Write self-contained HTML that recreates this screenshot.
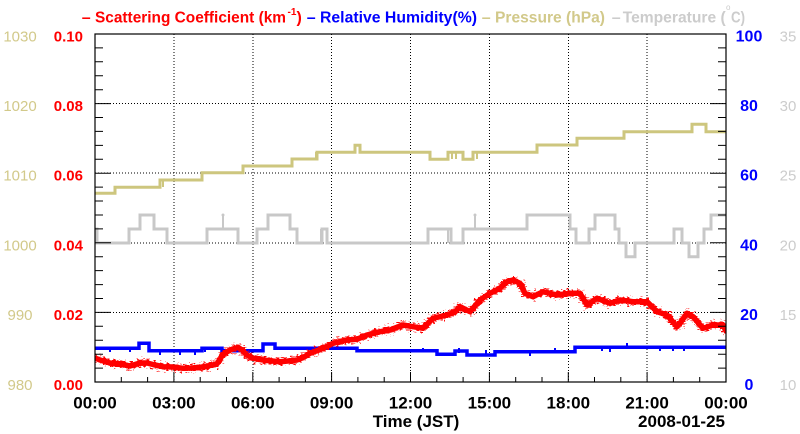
<!DOCTYPE html>
<html><head><meta charset="utf-8"><style>
html,body{margin:0;padding:0;background:#fff;}
svg{display:block;}
text{font-family:"Liberation Sans",Arial,sans-serif;}
</style></head><body>
<svg width="800" height="434" viewBox="0 0 800 434" xmlns="http://www.w3.org/2000/svg">
<defs>
<filter id="fz" x="-5%" y="-20%" width="110%" height="140%">
<feTurbulence type="fractalNoise" baseFrequency="0.3 0.8" numOctaves="2" seed="7" result="n"/>
<feDisplacementMap in="SourceGraphic" in2="n" scale="12" xChannelSelector="R" yChannelSelector="G"/>
</filter>
<clipPath id="pc"><rect x="95" y="34" width="631" height="348"/></clipPath>
</defs>
<rect x="0" y="0" width="800" height="434" fill="#fff"/>

<!-- title -->
<g font-size="16" font-weight="bold">
<text x="81.7" y="22.5" fill="#ff0000">–</text>
<text x="95" y="22.5" fill="#ff0000" textLength="191" lengthAdjust="spacingAndGlyphs">Scattering Coefficient (km</text>
<text x="287.5" y="15" fill="#ff0000" font-size="10">-1</text>
<text x="296.5" y="22.5" fill="#ff0000">)</text>
<text x="306.7" y="22.5" fill="#0000ff">–</text>
<text x="320" y="22.5" fill="#0000ff" textLength="157" lengthAdjust="spacingAndGlyphs">Relative Humidity(%)</text>
<text x="481.7" y="22.5" fill="#d2c98a">–</text>
<text x="495" y="22.5" fill="#d2c98a" textLength="110" lengthAdjust="spacingAndGlyphs">Pressure (hPa)</text>
<text x="611.7" y="22.5" fill="#cccccc">–</text>
<text x="622.7" y="22.5" fill="#cccccc" textLength="103" lengthAdjust="spacingAndGlyphs">Temperature (</text>
<text x="726" y="10" fill="#cccccc" font-size="8" font-weight="normal">o</text>
<text x="731" y="22.5" fill="#cccccc" textLength="14" lengthAdjust="spacingAndGlyphs">C)</text>
</g>

<!-- grid -->
<g stroke="#000" stroke-width="1" stroke-dasharray="1 2" fill="none" shape-rendering="crispEdges">
<path d="M173.9,34V382M252.8,34V382M331.6,34V382M410.5,34V382M489.4,34V382M568.3,34V382M647.1,34V382"/>
<path d="M95,312.4H726M95,242.8H726M95,173.2H726M95,103.6H726"/>
</g>

<!-- temperature -->
<g stroke="#c8c8c8" stroke-width="3" fill="none">
<path d="M95,229 H97 V243 H129 V229 H140 V215 H154 V229 H167 V243 H207 V229 H238 V243 H257 V229 H268 V215 H290 V229 H297 V243 H322 V229 H327 V243 H428 V229 H451 V243 H463 V229 H527 V215 H570 V229 H576 V243 H589 V229 H595 V215 H615 V229 H619 V243 H626 V256.7 H635 V243 H674 V229 H682 V243 H689 V256.7 H698 V243 H704 V229 H711 V215 H726"/>
<path d="M223,229V215M475,229V215M448,229V243M321,243V229" stroke-width="2"/>
</g>
<circle cx="223" cy="215" r="1.5" fill="#c8c8c8"/>
<circle cx="475" cy="215" r="1.5" fill="#c8c8c8"/>

<!-- pressure -->
<g stroke="#cdc67e" stroke-width="3" fill="none">
<path d="M95,193.3 H115 V187.3 H160 V180 H202 V172.7 H243 V166 H292 V159 H317 V152.3 H355 V145.3 H360 V152.3 H430 V159.3 H448 V152.3 H463 V159.3 H473 V152.3 H537 V145 H577 V138.3 H624 V131.7 H692 V124.3 H706 V131.7 H726"/>
<path d="M160,180V187M163,180V187M316,152V159M452,152V159M456,152V159M477,152V159" stroke-width="2"/>
</g>

<!-- humidity -->
<g stroke="#0000ff" stroke-width="3.5" fill="none">
<path d="M95,348.3 H139 V343.3 H149 V350.7 H202 V348.3 H222 V350.7 H263 V344 H275 V348.3 H357 V350.7 H437 V354.3 H455 V351 H467 V355 H495 V351.7 H575 V347.3 H726"/>
<path d="M110,348V352M130,348V352M160,351V355M180,351V355M195,351V355M205,348V352M320,348V352M423,350V348M459,348V353M486,350V356M530,351V356M555,348V353M602,347V351M610,347V352M627,347V343M660,347V351M673,347V351M684,347V351" stroke-width="2"/>
</g>

<!-- scattering -->
<g fill="none" stroke="#ff0000" stroke-linejoin="round" stroke-linecap="round" clip-path="url(#pc)">
<path id="sc" stroke-width="5.5"
d="M95,358 L100,360 L110,363 L120,364 L130,366 L140,363 L147,363 L155,365 L163,366.7 L173,367 L183,368.3 L192,368 L200,367.3 L208,366 L216.7,364 L220,360 L222,355 L230,350 L238,347.3 L242,350 L246.7,355 L253,358.3 L263,360 L272,361 L280,361.7 L288,361 L297,360 L304,357 L310,353.3 L316,351 L323,348.3 L333,343.3 L340,341.5 L347,340 L357,339.3 L367,335 L380,331.7 L390,330 L403,325 L413,326.7 L423,328.3 L433,318.3 L447,315 L455,312 L460,306.7 L470,311.7 L480,300 L490,293.3 L500,288.3 L507,281.7 L513,280 L520,283.3 L525,293.3 L533,296.7 L543,291.7 L557,295 L570,293.3 L580,293.3 L587,305 L597,298.3 L610,303.3 L620,300 L633,301.7 L647,301.7 L657,311.7 L667,315 L677,326.7 L680,323.3 L687,313.3 L693,316.7 L703,328.3 L713,325 L723,325 L726,331"/>
<g filter="url(#fz)"><use href="#sc" stroke-width="6"/></g>
</g>

<!-- frame -->
<rect x="95" y="34" width="631" height="348" fill="none" stroke="#000" stroke-width="1.2"/>

<!-- ticks -->
<g stroke="#000" stroke-width="1" fill="none">
<path d="M95,368.1h8M95,354.2h8M95,340.2h8M95,326.3h8M95,298.5h8M95,284.6h8M95,270.6h8M95,256.7h8M95,228.9h8M95,215h8M95,201h8M95,187.1h8M95,159.3h8M95,145.4h8M95,131.4h8M95,117.5h8M95,89.7h8M95,75.8h8M95,61.8h8M95,47.9h8"/>
<path d="M95,312.4h16M95,242.8h16M95,173.2h16M95,103.6h16"/>
<path d="M726,368.1h-8M726,354.2h-8M726,340.2h-8M726,326.3h-8M726,298.5h-8M726,284.6h-8M726,270.6h-8M726,256.7h-8M726,228.9h-8M726,215h-8M726,201h-8M726,187.1h-8M726,159.3h-8M726,145.4h-8M726,131.4h-8M726,117.5h-8M726,89.7h-8M726,75.8h-8M726,61.8h-8M726,47.9h-8"/>
<path d="M726,312.4h-16M726,242.8h-16M726,173.2h-16M726,103.6h-16"/>
<path d="M121.3,382v-5M147.6,382v-5M200.2,382v-5M226.5,382v-5M279.1,382v-5M305.4,382v-5M357.9,382v-5M384.2,382v-5M436.8,382v-5M463.1,382v-5M515.7,382v-5M542,382v-5M594.5,382v-5M620.8,382v-5M673.4,382v-5M699.7,382v-5"/>
<path d="M173.9,382v-10M252.8,382v-10M331.6,382v-10M410.5,382v-10M489.4,382v-10M568.3,382v-10M647.1,382v-10"/>
</g>

<!-- left labels: pressure -->
<g fill="#d2c98a" font-size="15" text-anchor="middle">
<text x="20" y="41.5">1030</text>
<text x="20" y="111">1020</text>
<text x="20" y="180.7">1010</text>
<text x="20" y="250.3">1000</text>
<text x="20" y="320">990</text>
<text x="20" y="390">980</text>
</g>
<!-- left labels: scattering -->
<g fill="#ff0000" font-size="15" font-weight="bold" text-anchor="end">
<text x="83" y="41.5">0.10</text>
<text x="83" y="111">0.08</text>
<text x="83" y="180.7">0.06</text>
<text x="83" y="250.3">0.04</text>
<text x="83" y="320">0.02</text>
<text x="83" y="390">0.00</text>
</g>
<!-- right labels: RH -->
<g fill="#0000ff" font-size="16" font-weight="bold" text-anchor="middle">
<text x="749" y="41.5">100</text>
<text x="749" y="111">80</text>
<text x="749" y="180.7">60</text>
<text x="749" y="250.3">40</text>
<text x="749" y="320">20</text>
<text x="749" y="390">0</text>
</g>
<!-- right labels: temperature -->
<g fill="#cccccc" font-size="15" text-anchor="middle">
<text x="788" y="41.5">35</text>
<text x="788" y="111">30</text>
<text x="788" y="180.7">25</text>
<text x="788" y="250.3">20</text>
<text x="788" y="320">15</text>
<text x="788" y="390">10</text>
</g>

<!-- x labels -->
<g fill="#000" font-size="17" font-weight="bold" text-anchor="middle">
<text x="95" y="408.5">00:00</text>
<text x="173.9" y="408.5">03:00</text>
<text x="252.8" y="408.5">06:00</text>
<text x="331.6" y="408.5">09:00</text>
<text x="410.5" y="408.5">12:00</text>
<text x="489.4" y="408.5">15:00</text>
<text x="568.3" y="408.5">18:00</text>
<text x="647.1" y="408.5">21:00</text>
<text x="726" y="408.5">00:00</text>
</g>
<text x="372.7" y="427" font-size="17" font-weight="bold" fill="#000">Time (JST)</text>
<text x="725" y="427" font-size="17" font-weight="bold" fill="#000" text-anchor="end">2008-01-25</text>
</svg>
</body></html>
